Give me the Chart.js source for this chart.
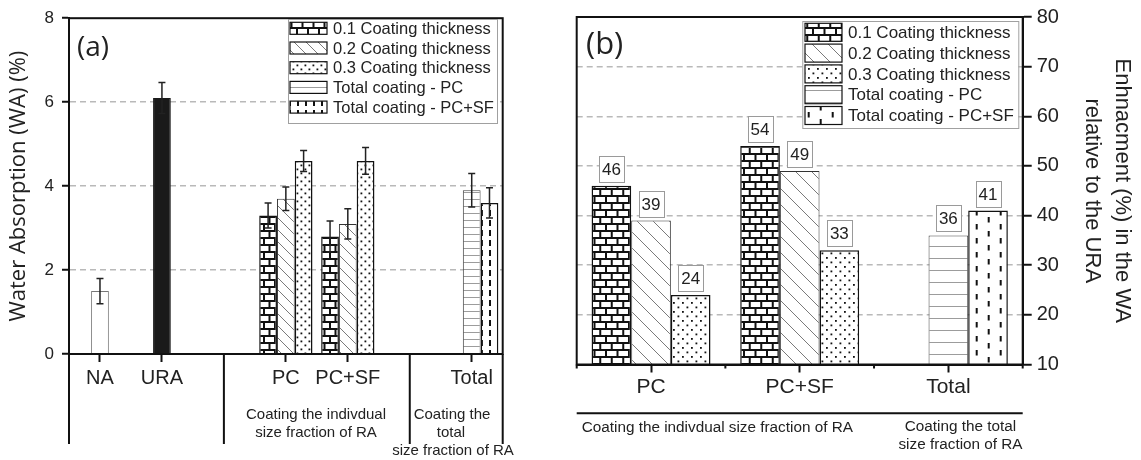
<!DOCTYPE html>
<html>
<head>
<meta charset="utf-8">
<script src="https://cdn.jsdelivr.net/npm/chart.js@4.4.1/dist/chart.umd.min.js"></script>
<style>
  html, body { margin: 0; padding: 0; background: #fff; }
  #wrap { position: relative; width: 1141px; height: 460px; }
  canvas { position: absolute; top: 0; }
  #chartA { left: 0; }
  #chartB { left: 560px; }
</style>
</head>
<body>
<div id="wrap">
  <canvas id="chartA" width="560" height="460"></canvas>
  <canvas id="chartB" width="581" height="460"></canvas>
</div>
<script>
// ---- data, panel (a): water absorption (%) ----
const catsA = ['NA', 'URA', '', 'PC', 'PC+SF', '', 'Total'];
const refA = [1.5, 6.1, null, null, null, null, null];
const refErrA = [0.3, 0.37, null, null, null, null, null];
const t01A = [null, null, null, 3.3, 2.8, null, null];
const t01ErrA = [null, null, null, 0.3, 0.37, null, null];
const t02A = [null, null, null, 3.7, 3.1, null, null];
const t02ErrA = [null, null, null, 0.28, 0.36, null, null];
const t03A = [null, null, null, 4.6, 4.6, null, null];
const t03ErrA = [null, null, null, 0.25, 0.32, null, null];
const totPcA = [null, null, null, null, null, null, 3.9];
const totPcErrA = [null, null, null, null, null, null, 0.4];
const totSfA = [null, null, null, null, null, null, 3.6];
const totSfErrA = [null, null, null, null, null, null, 0.36];

// ---- data, panel (b): enhancement (%) relative to URA ----
const catsB = ['PC', 'PC+SF', 'Total'];
const t01B = [46, 54, null];
const t02B = [39, 49, null];
const t03B = [24, 33, null];
const totPcB = [null, null, 36];
const totSfB = [null, null, 41];

const seriesNames = ['0.1 Coating thickness', '0.2 Coating thickness', '0.3 Coating thickness',
  'Total coating - PC', 'Total coating - PC+SF'];

const sans = 'Liberation Sans, Arial, sans-serif';
const open = 'Open Sans, sans-serif';

// ---- fill patterns ----
function tile(w, h, paint) {
  const c = document.createElement('canvas');
  c.width = w; c.height = h;
  const g = c.getContext('2d');
  g.fillStyle = '#fff';
  g.fillRect(0, 0, w, h);
  paint(g, w, h);
  return g.createPattern(c, 'repeat');
}
const brick = (bw, rh) => tile(bw * 2, rh * 2, (g, w, h) => {
  g.fillStyle = '#111'; g.fillRect(0, 0, w, h);
  g.fillStyle = '#fff';
  [[0, 0], [1, bw / 2]].forEach(([row, off]) => {
    for (let k = -1; k < 3; k++) g.fillRect(off + k * bw + 1, row * rh + 1, bw - 2, rh - 2);
  });
});
const hatch = s => tile(s, s, g => {
  g.strokeStyle = '#7a7a7a'; g.lineWidth = 1;
  g.beginPath();
  for (let k = -1; k <= 1; k++) { g.moveTo(k * s, 0); g.lineTo(k * s + s, s); }
  g.stroke();
});
const dots = s => tile(s, s, g => {
  g.fillStyle = '#111';
  g.fillRect(0.5, 0.5, 1.8, 1.8);
  g.fillRect(s / 2 + 0.5, s / 2 + 0.5, 1.8, 1.8);
});
const hlines = s => tile(4, s, g => {
  g.fillStyle = '#9c9c9c'; g.fillRect(0, Math.floor(s / 2), 4, 1);
});
const vdashA = tile(8, 10, g => { g.fillStyle = '#111'; g.fillRect(1, 0, 2, 6); });
const vdashB = tile(24, 14, g => {
  g.fillStyle = '#111'; g.fillRect(7.7, 0, 2, 5.5); g.fillRect(19.7, 7, 2, 5.5);
});

// ---- plugins ----
const errorBars = {
  id: 'errorBars',
  afterDatasetsDraw(chart) {
    const ctx = chart.ctx, y = chart.scales.y;
    ctx.save();
    ctx.strokeStyle = '#222'; ctx.lineWidth = 1.5;
    chart.data.datasets.forEach((ds, i) => {
      if (!ds.errors) return;
      chart.getDatasetMeta(i).data.forEach((bar, j) => {
        const v = ds.data[j], e = ds.errors[j];
        if (v == null || e == null) return;
        const top = y.getPixelForValue(v + e), bot = y.getPixelForValue(v - e);
        ctx.beginPath();
        ctx.moveTo(bar.x, top); ctx.lineTo(bar.x, bot);
        ctx.moveTo(bar.x - 3.5, top); ctx.lineTo(bar.x + 3.5, top);
        ctx.moveTo(bar.x - 3.5, bot); ctx.lineTo(bar.x + 3.5, bot);
        ctx.stroke();
      });
    });
    ctx.restore();
  }
};

const valueBoxes = {
  id: 'valueBoxes',
  afterDatasetsDraw(chart) {
    const ctx = chart.ctx;
    ctx.save();
    ctx.font = '17px ' + sans;
    ctx.textAlign = 'center'; ctx.textBaseline = 'middle';
    chart.data.datasets.forEach((ds, i) => {
      chart.getDatasetMeta(i).data.forEach((bar, j) => {
        const v = ds.data[j];
        if (v == null) return;
        const bx = Math.round(bar.x - 12.5) + 0.5, by = Math.round(bar.y - 30) + 0.5;
        ctx.fillStyle = '#fff'; ctx.fillRect(bx, by, 25, 26);
        ctx.strokeStyle = '#9a9a9a'; ctx.lineWidth = 1; ctx.strokeRect(bx, by, 25, 26);
        ctx.fillStyle = '#222'; ctx.fillText(String(v), bar.x, by + 14);
      });
    });
    ctx.restore();
  }
};

const decor = {
  id: 'decor',
  afterDraw(chart, args, o) {
    const ctx = chart.ctx, a = chart.chartArea, x = chart.scales.x;
    ctx.save();
    ctx.strokeStyle = '#111'; ctx.lineWidth = 2;
    ctx.strokeRect(a.left, a.top, a.right - a.left, a.bottom - a.top);
    ctx.beginPath();
    (o.seps || []).forEach(v => {
      const px = x.getPixelForValue(v);
      ctx.moveTo(px, a.bottom); ctx.lineTo(px, o.sepBottom);
    });
    (o.minor || []).forEach(v => {
      const px = x.getPixelForValue(v);
      ctx.moveTo(px, a.bottom); ctx.lineTo(px, a.bottom + 4);
    });
    if (o.ruleY) { ctx.moveTo(a.left, o.ruleY); ctx.lineTo(a.right, o.ruleY); }
    ctx.stroke();
    ctx.fillStyle = '#222';
    (o.notes || []).forEach(n => {
      ctx.font = n.font; ctx.textAlign = n.align || 'center';
      ctx.textBaseline = n.base || 'middle';
      ctx.fillText(n.t, n.x, n.y);
    });
    ctx.restore();
  }
};

const boxLegend = {
  id: 'boxLegend',
  afterDraw(chart, args, o) {
    const ctx = chart.ctx;
    ctx.save();
    ctx.fillStyle = '#fff'; ctx.fillRect(o.x, o.y, o.w, o.h);
    ctx.strokeStyle = '#a0a0a0'; ctx.lineWidth = 1; ctx.strokeRect(o.x + 0.5, o.y + 0.5, o.w, o.h);
    chart.data.datasets.filter(d => d.inLegend !== false).forEach((d, i) => {
      const top = o.swTop + i * o.step;
      ctx.fillStyle = d.backgroundColor;
      ctx.fillRect(o.swX, top, o.swW, o.swH);
      ctx.strokeStyle = '#111'; ctx.lineWidth = 1.2;
      ctx.strokeRect(o.swX, top, o.swW, o.swH);
      ctx.fillStyle = '#222'; ctx.font = o.font;
      ctx.textAlign = 'left'; ctx.textBaseline = 'middle';
      ctx.fillText(d.label, o.textX, top + o.swH / 2 + 1);
    });
    ctx.restore();
  }
};

const gridColor = (lo, hi) => c => (c.tick && c.tick.value > lo && c.tick.value < hi) ? '#b9b9b9' : 'rgba(0,0,0,0)';

// ---- panel (a) ----
new Chart(document.getElementById('chartA'), {
  type: 'bar',
  data: {
    labels: catsA,
    datasets: [
      { label: seriesNames[0], data: t01A, errors: t01ErrA, stack: 'a', backgroundColor: brick(11, 7), borderColor: '#111', borderWidth: 1.5 },
      { label: seriesNames[1], data: t02A, errors: t02ErrA, stack: 'b', backgroundColor: hatch(12), borderColor: '#333', borderWidth: 1 },
      { label: seriesNames[2], data: t03A, errors: t03ErrA, stack: 'c', backgroundColor: dots(8), borderColor: '#111', borderWidth: 1.5 },
      { label: seriesNames[3], data: totPcA, errors: totPcErrA, stack: 'b', backgroundColor: hlines(7), borderColor: '#444', borderWidth: 1 },
      { label: seriesNames[4], data: totSfA, errors: totSfErrA, stack: 'c', backgroundColor: vdashA, borderColor: '#111', borderWidth: 1.5 },
      { label: 'reference', data: refA, errors: refErrA, stack: 'b', inLegend: false,
        backgroundColor: ['#fff', '#1a1a1a'], borderColor: ['#777', '#1a1a1a'], borderWidth: 1 }
    ]
  },
  options: {
    responsive: false,
    animation: false,
    datasets: { bar: { categoryPercentage: 0.86, barPercentage: 1 } },
    layout: { padding: { left: 0, right: 57.3, top: 15, bottom: 0 } },
    plugins: {
      legend: { display: false },
      tooltip: { enabled: false },
      decor: {
        seps: [-0.5, 2, 5, 6.5], sepBottom: 444,
        notes: [
          { t: '(a)', x: 77, y: 56, font: '28px ' + open, align: 'left', base: 'alphabetic' },
          { t: 'Coating the indivdual', x: 316, y: 415, font: '15px ' + sans },
          { t: 'size fraction of RA', x: 316, y: 433, font: '15px ' + sans },
          { t: 'Coating the', x: 452, y: 415, font: '15px ' + sans },
          { t: 'total', x: 451, y: 433, font: '15px ' + sans },
          { t: 'size fraction of RA', x: 453, y: 451, font: '15px ' + sans }
        ]
      },
      boxLegend: { x: 288, y: 19, w: 209, h: 104, swX: 290, swW: 37, swH: 12, swTop: 22.3, step: 19.7, textX: 333, font: '16.5px ' + sans }
    },
    scales: {
      x: {
        grid: { offset: false, drawOnChartArea: false, tickLength: 8, tickWidth: 2,
          tickColor: c => catsA[c.index] ? '#111' : 'rgba(0,0,0,0)' },
        border: { color: '#111', width: 2 },
        ticks: { font: { family: sans, size: 20 }, color: '#222', padding: 4, maxRotation: 0, autoSkip: false },
        afterFit: s => { s.height = 106; }
      },
      y: {
        min: 0, max: 8,
        ticks: { stepSize: 2, font: { family: sans, size: 17 }, color: '#222', padding: 8 },
        grid: { color: gridColor(0, 8), lineWidth: 1.5, tickLength: 7, tickWidth: 2, tickColor: '#111' },
        border: { color: '#111', width: 2, dash: [6, 4] },
        title: { display: true, text: 'Water Absorption (WA) (%)', color: '#222',
          font: { family: open, size: 22 }, padding: { top: 6, bottom: 0 } },
        afterFit: s => { s.width = 69; }
      }
    }
  },
  plugins: [errorBars, decor, boxLegend]
});

// ---- panel (b) ----
new Chart(document.getElementById('chartB'), {
  type: 'bar',
  data: {
    labels: catsB,
    datasets: [
      { label: seriesNames[0], data: t01B, stack: 'a', backgroundColor: brick(11.5, 7), borderColor: '#111', borderWidth: 1.5 },
      { label: seriesNames[1], data: t02B, stack: 'b', backgroundColor: hatch(16), borderColor: '#333', borderWidth: 1 },
      { label: seriesNames[2], data: t03B, stack: 'c', backgroundColor: dots(9), borderColor: '#111', borderWidth: 1.5 },
      { label: seriesNames[3], data: totPcB, stack: 'b', backgroundColor: hlines(12), borderColor: '#444', borderWidth: 1 },
      { label: seriesNames[4], data: totSfB, stack: 'c', backgroundColor: vdashB, borderColor: '#111', borderWidth: 1.5 }
    ]
  },
  options: {
    responsive: false,
    animation: false,
    datasets: { bar: { categoryPercentage: 0.8, barPercentage: 1 } },
    layout: { padding: { left: 16.7, right: 0, top: 16.7, bottom: 0 } },
    plugins: {
      legend: { display: false },
      tooltip: { enabled: false },
      decor: {
        minor: [-0.5, 0.5, 1.5, 2.5], ruleY: 413.3,
        notes: [
          { t: '(b)', x: 26, y: 54, font: '31px ' + open, align: 'left', base: 'alphabetic' },
          { t: 'Coating the indivdual size fraction of RA', x: 21.7, y: 427.3, font: '15.3px ' + sans, align: 'left' },
          { t: 'Coating the total', x: 400.5, y: 426.7, font: '15.3px ' + sans },
          { t: 'size fraction of RA', x: 400.5, y: 445, font: '15.3px ' + sans }
        ]
      },
      boxLegend: { x: 242.3, y: 21, w: 216, h: 107, swX: 245, swW: 37, swH: 18, swTop: 23.3, step: 20.8, textX: 288, font: '17px ' + sans }
    },
    scales: {
      x: {
        grid: { offset: false, drawOnChartArea: false, tickLength: 8, tickWidth: 2, tickColor: '#111' },
        border: { color: '#111', width: 2 },
        ticks: { font: { family: sans, size: 21 }, color: '#222', padding: 2, maxRotation: 0 },
        afterFit: s => { s.height = 95.5; }
      },
      y: {
        position: 'right',
        min: 10, max: 80,
        ticks: { stepSize: 10, font: { family: sans, size: 20 }, color: '#222', padding: 5 },
        grid: { color: gridColor(10, 80), lineWidth: 1.5, tickLength: 9, tickWidth: 2, tickColor: '#111' },
        border: { color: '#111', width: 2, dash: [6, 4] },
        title: { display: true, text: ['Enhnacment (%) in the WA', 'relative to the URA'], color: '#222',
          font: { family: sans, size: 22, lineHeight: 1.36 }, padding: { top: 4.3, bottom: 0 } },
        afterFit: s => { s.width = 118.3; }
      }
    }
  },
  plugins: [errorBars, valueBoxes, decor, boxLegend]
});
</script>
</body>
</html>
